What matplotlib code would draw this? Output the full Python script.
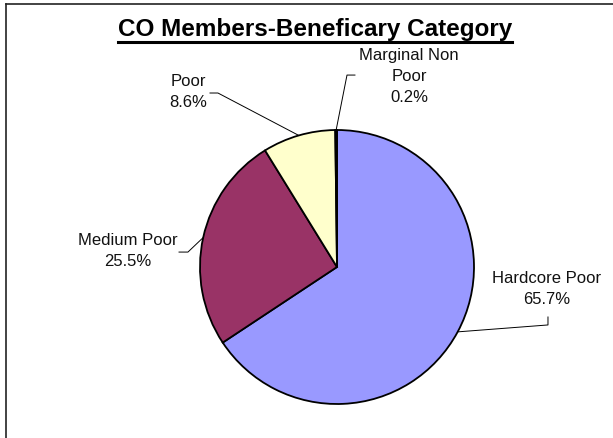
import numpy as np
import matplotlib
matplotlib.use("Agg")
import matplotlib.pyplot as plt
from matplotlib.lines import Line2D

plt.rcParams["font.family"] = ["Liberation Sans", "DejaVu Sans"]

# data
categories = ["Hardcore Poor", "Medium Poor", "Poor", "Marginal Non\nPoor"]
shares = [65.7, 25.5, 8.6, 0.2]
colors = ["#9999FF", "#993366", "#FFFFCC", "#CCFFFF"]

# label centres and leader elbows, in pie-radius units
label_xy = [(1.533, -0.157), (-1.529, 0.117), (-1.084, 1.281), (0.526, 1.394)]
elbows = [
    [(1.540, -0.365), (1.540, -0.423)],
    [(-1.153, 0.109), (-1.088, 0.109)],
    [(-0.927, 1.270), (-0.869, 1.270)],
    [(0.131, 1.401), (0.073, 1.401)],
]

W, H = 613, 438
fig = plt.figure(figsize=(W / 100, H / 100), dpi=100)
fig.patch.set_facecolor("white")

# pie centre (337, 267) px, radius 137 px
cx, cy, r = 337, 267, 137
ax = fig.add_axes([(cx - r) / W, (H - cy - r) / H, 2 * r / W, 2 * r / H])
wedges, _ = ax.pie(shares, colors=colors, startangle=90, counterclock=False,
                   wedgeprops=dict(edgecolor="black", linewidth=1.3))
ax.set_xlim(-1, 1)
ax.set_ylim(-1, 1)
ax.axis("off")

for w, name, val, (lx, ly), pts in zip(wedges, categories, shares, label_xy, elbows):
    mid = np.deg2rad((w.theta1 + w.theta2) / 2)
    ex, ey = np.cos(mid), np.sin(mid)
    xs = [p[0] for p in pts] + [ex]
    ys = [p[1] for p in pts] + [ey]
    ax.plot(xs, ys, color="black", lw=0.7, clip_on=False)
    ax.text(lx, ly, f"{name}\n{val:.1f}%", ha="center", va="center",
            fontsize=12, linespacing=1.5, color="#111111")

# title with underline
title = fig.text(315 / W, 1 - 36 / H, "CO Members-Beneficary Category",
                 ha="center", va="baseline", fontsize=17.5, fontweight="bold")
fig.canvas.draw()
bb = title.get_window_extent()
uy = 1 - 42 / H
fig.add_artist(Line2D([bb.x0 / W, bb.x1 / W], [uy, uy], color="black", lw=2.2))

# chart border (top and left edges visible)
fig.add_artist(Line2D([6 / W, 1], [1 - 4 / H, 1 - 4 / H], color="#222222", lw=1.2))
fig.add_artist(Line2D([6 / W, 6 / W], [0, 1 - 4 / H], color="#222222", lw=1.2))

fig.savefig("out.png", dpi=100)
